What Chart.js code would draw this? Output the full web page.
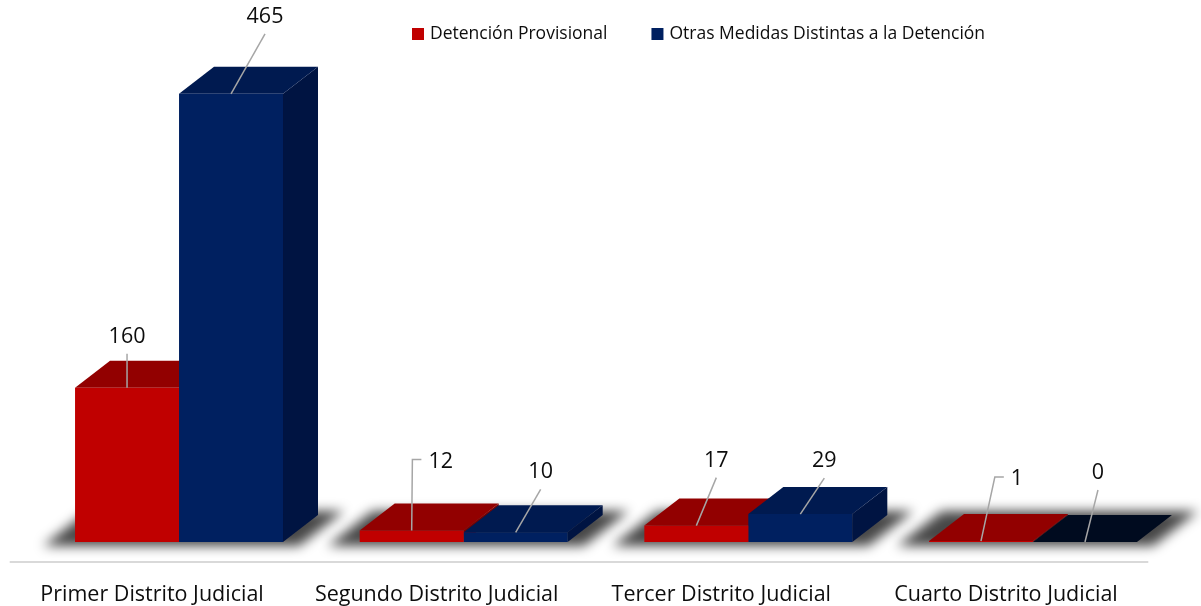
<!DOCTYPE html>
<html><head><meta charset="utf-8">
<script src="https://cdn.jsdelivr.net/npm/chart.js@4.4.1/dist/chart.umd.min.js"></script>
<style>html,body{margin:0;padding:0;background:#fff;overflow:hidden}</style>
</head><body>
<canvas id="c" width="1201" height="606" style="width:1201px;height:606px;display:block"></canvas>
<script>
// ---- data ----
const categories = ['Primer Distrito Judicial', 'Segundo Distrito Judicial', 'Tercer Distrito Judicial', 'Cuarto Distrito Judicial'];
const seriesNames = ['Detención Provisional', 'Otras Medidas Distintas a la Detención'];
const detencionProvisional = [160, 12, 17, 1];
const otrasMedidas = [465, 10, 29, 0];
const yMin = 0;
const yMax = 552;

// ---- style ----
const FONT = '"Open Sans", "Noto Sans", sans-serif';
const colors = {
  front: ['#C00000', '#002060'],
  top:   ['#920000', '#001A50'],
  side:  ['#7A0000', '#001442'],
  zeroTop: ['#900000', '#000B1F']
};
const DEPTH = {dx: 35, dy: -27};
const FLOOR = {dx: -27, dy: 20};
// label placement relative to bar front-top centre
const labelLayout = [
  [{dx: 0, dy: -51}, {dx: 29, dy: -69, elbow: true}, {dx: 20, dy: -65}, {dx: 36, dy: -62, elbow: true}],
  [{dx: 34, dy: -77}, {dx: 25, dy: -60}, {dx: 24, dy: -53}, {dx: 13, dy: -69}]
];

const depthPlugin = {
  id: 'depth3d',
  beforeDatasetsDraw(chart) {
    const ctx = chart.ctx;
    const m0 = chart.getDatasetMeta(0).data;
    const m1 = chart.getDatasetMeta(1).data;
    // shadows
    for (let i = 0; i < m0.length; i++) {
      const a = m0[i], b = m1[i];
      const left = a.x - a.width / 2, right = b.x + b.width / 2, base = a.base;
      ctx.save();
      ctx.filter = 'blur(6px)';
      ctx.fillStyle = 'rgba(0,0,0,0.72)';
      ctx.beginPath();
      ctx.moveTo(left - 32, base + 4);
      ctx.lineTo(right + 16, base + 4);
      ctx.lineTo(right + DEPTH.dx + 26, base + DEPTH.dy - 4);
      ctx.lineTo(left + DEPTH.dx - 22, base + DEPTH.dy - 4);
      ctx.closePath();
      ctx.fill();
      ctx.restore();
    }
    // top & side faces
    for (let i = 0; i < m0.length; i++) {
      [m0[i], m1[i]].forEach((el, d) => {
        const l = el.x - el.width / 2, r = el.x + el.width / 2;
        const top = Math.min(el.y, el.base), base = el.base;
        const v = chart.data.datasets[d].data[i];
        ctx.save();
        ctx.fillStyle = colors.side[d];
        ctx.beginPath();
        ctx.moveTo(r, base);
        ctx.lineTo(r + DEPTH.dx, base + DEPTH.dy);
        ctx.lineTo(r + DEPTH.dx, top + DEPTH.dy);
        ctx.lineTo(r, top);
        ctx.closePath();
        ctx.fill();
        ctx.fillStyle = v === 0 ? colors.zeroTop[d] : colors.top[d];
        ctx.beginPath();
        ctx.moveTo(l, top);
        ctx.lineTo(r, top);
        ctx.lineTo(r + DEPTH.dx, top + DEPTH.dy);
        ctx.lineTo(l + DEPTH.dx, top + DEPTH.dy);
        ctx.closePath();
        ctx.fill();
        ctx.restore();
      });
    }
  },
  afterDraw(chart) {
    const ctx = chart.ctx;
    const ca = chart.chartArea;
    // floor front edge (axis line)
    ctx.save();
    ctx.strokeStyle = '#D9D9D9';
    ctx.lineWidth = 2;
    ctx.beginPath();
    ctx.moveTo(ca.left + FLOOR.dx, ca.bottom + FLOOR.dy);
    ctx.lineTo(ca.right + FLOOR.dx, ca.bottom + FLOOR.dy);
    ctx.stroke();
    ctx.restore();
    // data labels with leader lines
    ctx.save();
    ctx.font = '21.5px ' + FONT;
    ctx.textAlign = 'center';
    ctx.textBaseline = 'middle';
    chart.data.datasets.forEach((ds, d) => {
      chart.getDatasetMeta(d).data.forEach((el, i) => {
        const cfg = labelLayout[d][i];
        const txt = String(ds.data[i]);
        const lx = el.x + cfg.dx, ly = el.y + cfg.dy;
        const w = ctx.measureText(txt).width;
        ctx.strokeStyle = '#A6A6A6';
        ctx.lineWidth = 1.5;
        ctx.beginPath();
        if (cfg.elbow) {
          const left = lx - w / 2;
          ctx.moveTo(left - 7, ly - 2);
          ctx.lineTo(left - 16, ly - 2);
          ctx.lineTo(el.x, el.y);
        } else {
          ctx.moveTo(lx, ly + 17);
          ctx.lineTo(el.x, el.y);
        }
        ctx.stroke();
        ctx.fillStyle = '#0D0D0D';
        ctx.fillText(txt, lx, ly);
      });
    });
    ctx.restore();
    // legend
    ctx.save();
    ctx.font = '17.5px ' + FONT;
    ctx.textBaseline = 'middle';
    ctx.textAlign = 'left';
    let x = 412;
    const y = 34;
    seriesNames.forEach((name, d) => {
      ctx.fillStyle = colors.front[d];
      ctx.fillRect(x, y - 6, 12, 12);
      ctx.fillStyle = '#0D0D0D';
      ctx.fillText(name, x + 18, y);
      x += 18 + ctx.measureText(name).width + 44;
    });
    ctx.restore();
  }
};

new Chart(document.getElementById('c'), {
  type: 'bar',
  data: {
    labels: categories,
    datasets: [
      {label: seriesNames[0], data: detencionProvisional, backgroundColor: colors.front[0], borderWidth: 0},
      {label: seriesNames[1], data: otrasMedidas, backgroundColor: colors.front[1], borderWidth: 0}
    ]
  },
  options: {
    responsive: false,
    animation: false,
    events: [],
    layout: {padding: {left: 36.7, right: 25.7, top: 10, bottom: 0}},
    datasets: {bar: {categoryPercentage: 0.7306, barPercentage: 1}},
    plugins: {legend: {display: false}, tooltip: {enabled: false}},
    scales: {
      x: {
        grid: {display: false, drawTicks: false},
        border: {display: false},
        ticks: {
          labelOffset: FLOOR.dx,
          padding: 40,
          color: '#0D0D0D',
          font: {family: FONT, size: 21.5}
        },
        afterFit(scale) { scale.height = 64; }
      },
      y: {
        display: false,
        min: yMin,
        max: yMax
      }
    }
  },
  plugins: [depthPlugin]
});
</script>
</body></html>
